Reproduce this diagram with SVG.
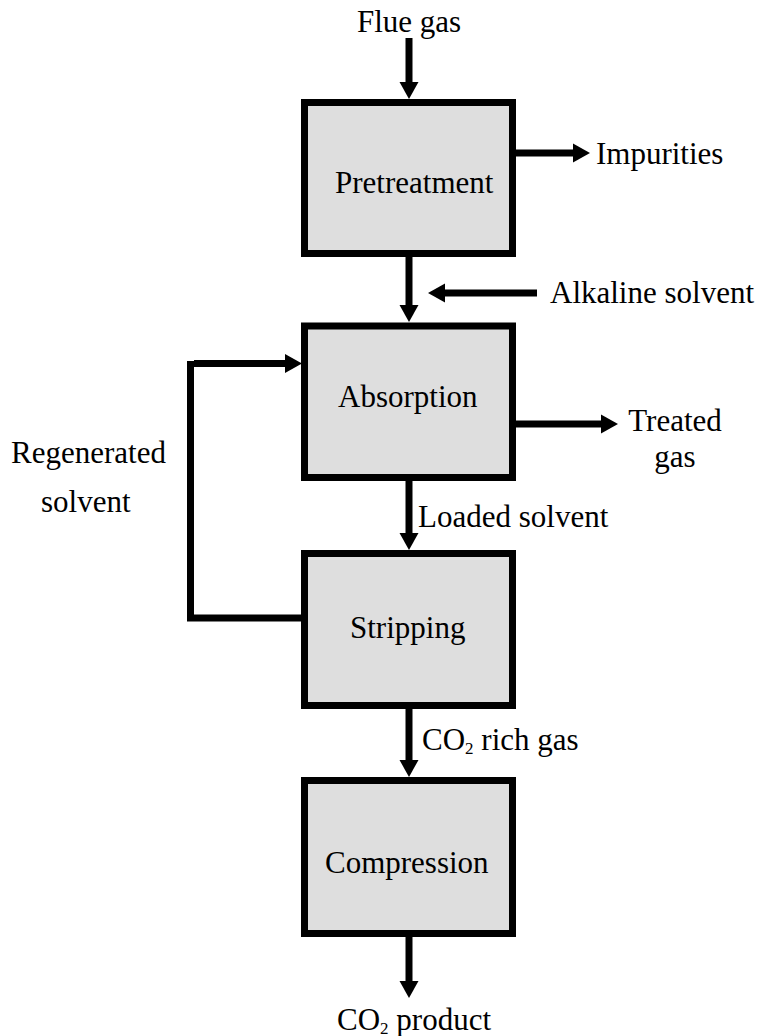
<svg xmlns="http://www.w3.org/2000/svg" width="762" height="1036" viewBox="0 0 762 1036">
<style>
.box{fill:#dedede;stroke:#000;stroke-width:7}
.lbl{font-size:31px;fill:#000}
.c{fill:none;stroke:#000;stroke-width:7;stroke-linejoin:miter}
.a{marker-end:url(#ah)}
</style>
<defs>
<marker id="ah" markerUnits="userSpaceOnUse" markerWidth="18" markerHeight="20" refX="0" refY="9.5" orient="auto" overflow="visible">
<path d="M0,0 L17,9.5 L0,19 z" fill="#000"/>
</marker>
</defs>
<rect width="762" height="1036" fill="#fff"/>
<g id="connectors">
<line class="c a" x1="409" y1="38" x2="409" y2="82"/>
<line class="c a" x1="516" y1="153" x2="573" y2="153"/>
<line class="c a" x1="409" y1="257" x2="409" y2="305"/>
<line class="c a" x1="537" y1="293" x2="445" y2="293"/>
<path class="c" d="M301,618 H190.5 V361"/>
<line class="c a" x1="194" y1="363.5" x2="285" y2="363.5"/>
<line class="c a" x1="516" y1="424" x2="601" y2="424"/>
<line class="c a" x1="409" y1="481" x2="409" y2="533"/>
<line class="c a" x1="409" y1="709" x2="409" y2="760"/>
<line class="c a" x1="409" y1="937" x2="409" y2="981"/>
</g>
<g font-family="Liberation Serif, Times New Roman, serif">
<g id="pretreatment">
<rect class="box" x="304.5" y="102.5" width="208" height="151"/>
<text class="lbl" x="335" y="193">Pretreatment</text>
</g>
<g id="absorption">
<rect class="box" x="304.5" y="326" width="208" height="151.5"/>
<text class="lbl" x="338" y="407">Absorption</text>
</g>
<g id="stripping">
<rect class="box" x="304.5" y="553.5" width="208" height="152"/>
<text class="lbl" x="350" y="638">Stripping</text>
</g>
<g id="compression">
<rect class="box" x="304.5" y="780.5" width="208" height="153"/>
<text class="lbl" x="325" y="873">Compression</text>
</g>
<g id="labels">
<text class="lbl" x="357" y="32">Flue gas</text>
<text class="lbl" x="596" y="164">Impurities</text>
<text class="lbl" x="550" y="303">Alkaline solvent</text>
<text class="lbl" x="675" y="431" text-anchor="middle">Treated</text>
<text class="lbl" x="675" y="467" text-anchor="middle">gas</text>
<text class="lbl" x="11" y="463">Regenerated</text>
<text class="lbl" x="41" y="512">solvent</text>
<text class="lbl" x="418" y="527">Loaded solvent</text>
<text class="lbl" x="422" y="750">CO<tspan font-size="17" dy="4">2</tspan><tspan dy="-4"> rich gas</tspan></text>
<text class="lbl" x="337" y="1030">CO<tspan font-size="17" dy="4">2</tspan><tspan dy="-4"> product</tspan></text>
</g>
</g>
</svg>
